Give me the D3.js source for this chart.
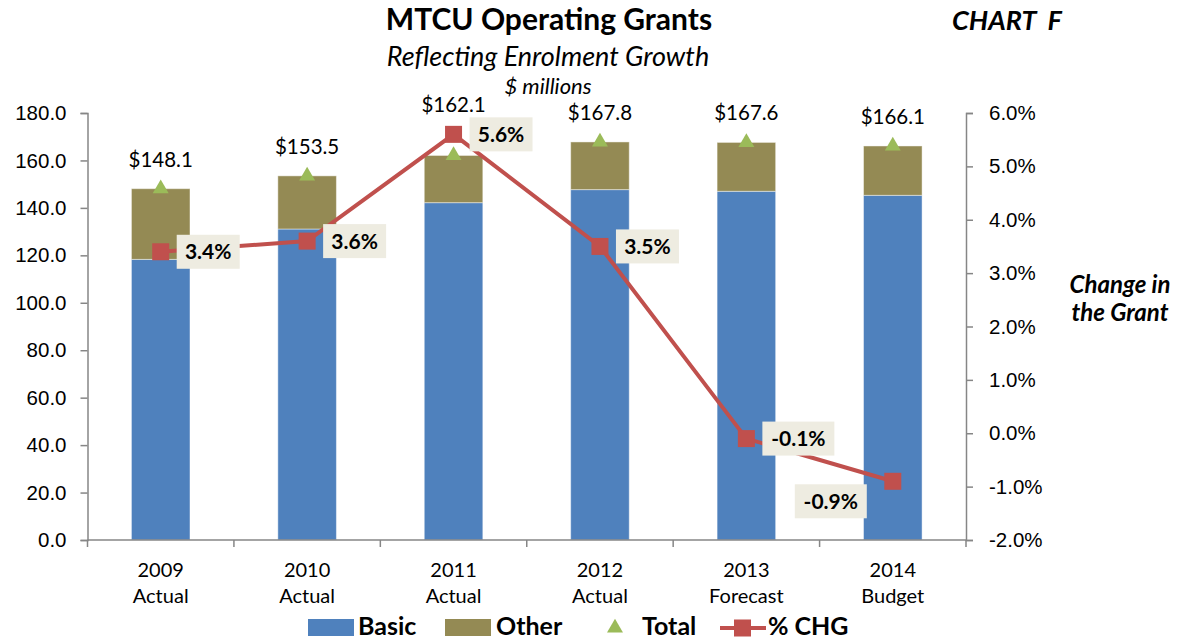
<!DOCTYPE html>
<html>
<head>
<meta charset="utf-8">
<script src="https://cdn.jsdelivr.net/npm/d3@7"></script>
<style>
  body { margin: 0; background: #fff; }
  svg { display: block; font-family: Lato, "Open Sans", sans-serif; }
</style>
</head>
<body>
<div id="chart"></div>
<script>
const years = ["2009", "2010", "2011", "2012", "2013", "2014"];
const kinds = ["Actual", "Actual", "Actual", "Actual", "Forecast", "Budget"];
const basic = [118.3, 131.1, 142.2, 147.7, 147.0, 145.3];
const total = [148.1, 153.5, 162.1, 167.8, 167.6, 166.1];
const pctChg = [3.4, 3.6, 5.6, 3.5, -0.1, -0.9];
const leftTicks = [0, 20, 40, 60, 80, 100, 120, 140, 160, 180];
const rightTicks = [-2, -1, 0, 1, 2, 3, 4, 5, 6];
const labelSide = ["right", "right", "right", "right", "right", "left"];

const width = 1182, height = 640;
const colors = { basic: "#4F81BD", other: "#948A54", total: "#9BBB59", chg: "#C0504D", box: "#EEECE1", axis: "#868686" };

const rows = years.map((y, i) => ({
    year: y, kind: kinds[i], basic: basic[i], other: total[i] - basic[i],
    total: total[i], pct: pctChg[i], side: labelSide[i]
}));

const svg = d3.select("#chart").append("svg")
    .attr("width", width)
    .attr("height", height);

const x = d3.scaleBand().domain(years).range([87.5, 966]).padding(0);
const y = d3.scaleLinear().domain([0, 180]).range([540, 113]);
const yr = d3.scaleLinear().domain([-2, 6]).range([540, 113]);
const barW = x.bandwidth() * 0.4;
const cx = d => x(d.year) + x.bandwidth() / 2;

// titles
svg.append("text").attr("x", 549).attr("y", 30).attr("text-anchor", "middle")
    .attr("font-size", 30).attr("font-weight", "bold").text("MTCU Operating Grants");
svg.append("text").attr("x", 1007).attr("y", 30).attr("text-anchor", "middle")
    .attr("font-size", 27).attr("font-weight", "bold").attr("font-style", "italic")
    .style("white-space", "pre").text("CHART  F");
svg.append("text").attr("x", 548).attr("y", 66).attr("text-anchor", "middle")
    .attr("font-size", 27).attr("font-style", "italic").text("Reflecting Enrolment Growth");
svg.append("text").attr("x", 548).attr("y", 94).attr("text-anchor", "middle")
    .attr("font-size", 22).attr("font-style", "italic").text("$ millions");
svg.append("text").attr("x", 1120).attr("y", 293).attr("text-anchor", "middle")
    .attr("font-size", 24).attr("font-weight", "bold").attr("font-style", "italic")
    .selectAll("tspan").data(["Change in", "the Grant"]).join("tspan")
    .attr("x", 1120).attr("dy", (d, i) => i ? 28 : 0).text(d => d);

// bars
const stack = d3.stack().keys(["basic", "other"])(rows);
svg.append("g").selectAll("g").data(stack).join("g")
    .attr("fill", s => colors[s.key])
    .selectAll("rect").data(s => s.map(p => ({ p, d: p.data }))).join("rect")
    .attr("x", o => cx(o.d) - barW / 2)
    .attr("width", barW)
    .attr("y", o => y(o.p[1]))
    .attr("height", o => y(o.p[0]) - y(o.p[1]))
    .attr("stroke", "rgba(255,255,255,0.45)")
    .attr("stroke-width", 1);

// axes
const axisG = svg.append("g").attr("color", colors.axis).attr("font-family", "Lato, sans-serif");
const leftAxis = axisG.append("g").attr("transform", "translate(87.5,0)")
    .call(d3.axisLeft(y).tickValues(leftTicks).tickFormat(d3.format(".1f")).tickSize(7).tickPadding(14));
const rightAxis = axisG.append("g").attr("transform", "translate(966,0)")
    .call(d3.axisRight(yr).tickValues(rightTicks).tickFormat(d => d.toFixed(1) + "%").tickSize(7).tickPadding(16));
const bottom = axisG.append("g").attr("transform", "translate(0,540)");
bottom.append("line").attr("x1", 87.5).attr("x2", 966).attr("stroke", colors.axis).attr("stroke-width", 1.5);
bottom.selectAll("line.t").data(years.concat(["end"])).join("line").attr("class", "t")
    .attr("x1", (d, i) => 87.5 + i * x.bandwidth()).attr("x2", (d, i) => 87.5 + i * x.bandwidth())
    .attr("y1", 0).attr("y2", 7).attr("stroke", colors.axis).attr("stroke-width", 1.5);
[leftAxis, rightAxis].forEach(a => {
    a.select(".domain").attr("stroke-width", 1.5);
    a.selectAll(".tick line").attr("stroke-width", 1.5);
    a.selectAll("text").attr("fill", "#000").attr("font-size", 20.5);
});
const xl = svg.append("g").attr("font-size", 20).attr("text-anchor", "middle");
xl.selectAll("text").data(rows).join("text")
    .attr("x", cx).attr("y", 577)
    .selectAll("tspan").data(d => [d.year, d.kind]).join("tspan")
    .attr("x", function () { return d3.select(this.parentNode).attr("x"); })
    .attr("dy", (d, i) => i ? 26 : 0).text(d => d);

// total value labels
svg.append("g").attr("font-size", 20.5).attr("text-anchor", "middle")
    .selectAll("text").data(rows).join("text")
    .attr("x", cx)
    .attr("y", d => Math.min(y(d.total), yr(d.pct)) - 22)
    .text(d => "$" + d.total.toFixed(1));

// total triangles
svg.append("g").selectAll("path").data(rows).join("path")
    .attr("transform", d => `translate(${cx(d)},${y(d.total)})`)
    .attr("d", d3.symbol(d3.symbolTriangle, 110))
    .attr("fill", colors.total);

// % change line
svg.append("path").datum(rows)
    .attr("fill", "none").attr("stroke", colors.chg).attr("stroke-width", 4)
    .attr("d", d3.line().x(cx).y(d => yr(d.pct)));
svg.append("g").selectAll("rect").data(rows).join("rect")
    .attr("x", d => cx(d) - 8.5).attr("y", d => yr(d.pct) - 8.5)
    .attr("width", 17).attr("height", 17).attr("fill", colors.chg);

// % change labels
const lab = svg.append("g").selectAll("g").data(rows).join("g")
    .attr("transform", d => {
        const bx = d.side === "right" ? cx(d) + 16 : cx(d) - 98;
        const by = yr(d.pct) + (d.side === "right" ? 0 : 20);
        return `translate(${bx},${by})`;
    });
lab.append("rect").attr("x", 0).attr("y", -17).attr("height", 34)
    .attr("width", d => d.pct < 0 ? 72 : 63).attr("fill", colors.box);
lab.append("text").attr("x", d => (d.pct < 0 ? 72 : 63) / 2).attr("y", 7.5)
    .attr("text-anchor", "middle").attr("font-size", 21).attr("font-weight", "bold")
    .text(d => d.pct.toFixed(1) + "%");

// legend
const leg = svg.append("g").attr("font-size", 25).attr("font-weight", "bold");
leg.append("rect").attr("x", 308).attr("y", 619).attr("width", 46).attr("height", 17).attr("fill", colors.basic);
leg.append("text").attr("x", 358).attr("y", 635).text("Basic");
leg.append("rect").attr("x", 445).attr("y", 619).attr("width", 46).attr("height", 17).attr("fill", colors.other);
leg.append("text").attr("x", 496).attr("y", 635).text("Other");
leg.append("path").attr("transform", "translate(615,628)").attr("d", d3.symbol(d3.symbolTriangle, 110)).attr("fill", colors.total);
leg.append("text").attr("x", 642).attr("y", 635).text("Total");
leg.append("line").attr("x1", 720).attr("x2", 766).attr("y1", 628).attr("y2", 628).attr("stroke", colors.chg).attr("stroke-width", 4);
leg.append("rect").attr("x", 734).attr("y", 619.5).attr("width", 17).attr("height", 17).attr("fill", colors.chg);
leg.append("text").attr("x", 768).attr("y", 635).text("% CHG");
</script>
</body>
</html>
